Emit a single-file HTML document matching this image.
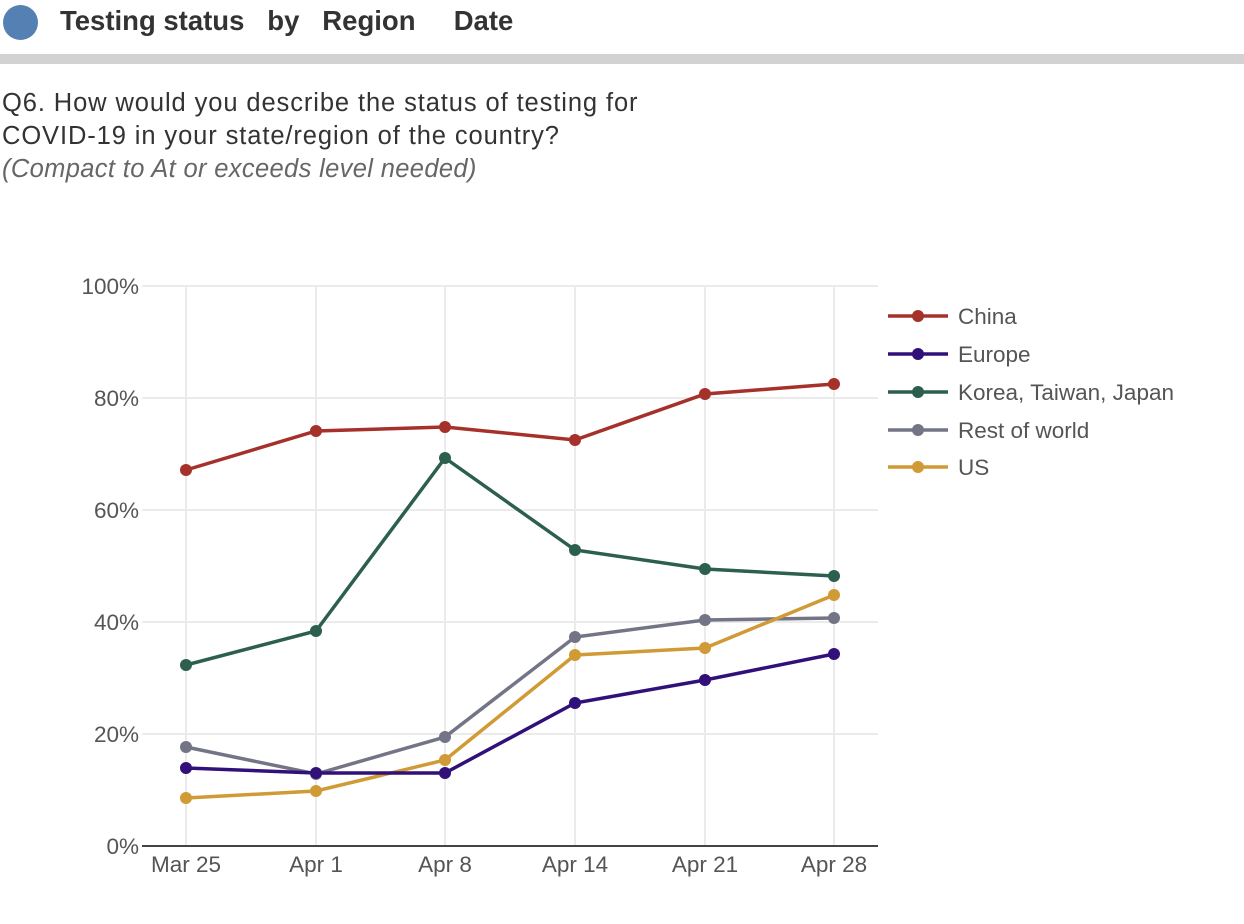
<!DOCTYPE html><html><head><style>
body{margin:0;width:1244px;height:924px;background:#fff;font-family:"Liberation Sans",sans-serif;overflow:hidden;position:relative}
</style></head><body>
<div style="position:absolute;left:3px;top:5px;width:35px;height:35px;border-radius:50%;background:#5580b4"></div>
<div style="position:absolute;left:60px;top:5px;font-size:27.5px;font-weight:bold;color:#333;white-space:pre">Testing status   by   Region     Date</div>
<div style="position:absolute;left:0;top:54px;width:1244px;height:10px;background:#d2d2d2"></div>
<div style="position:absolute;left:2px;top:87px;font-size:25.5px;letter-spacing:0.9px;color:#333;line-height:33px;white-space:nowrap">Q6. How would you describe the status of testing for<br>COVID-19 in your state/region of the country?<br><i style="color:#666;letter-spacing:0.35px">(Compact to At or exceeds level needed)</i></div>
<svg width="1244" height="924" style="position:absolute;left:0;top:0" font-family="Liberation Sans, sans-serif">
<g stroke="#ebebeb" stroke-width="2">
<line x1="142" x2="878" y1="286" y2="286"/><line x1="142" x2="878" y1="398" y2="398"/><line x1="142" x2="878" y1="510" y2="510"/><line x1="142" x2="878" y1="622" y2="622"/><line x1="142" x2="878" y1="734" y2="734"/>
<line x1="186" x2="186" y1="286" y2="846"/><line x1="316" x2="316" y1="286" y2="846"/><line x1="445" x2="445" y1="286" y2="846"/><line x1="575" x2="575" y1="286" y2="846"/><line x1="705" x2="705" y1="286" y2="846"/><line x1="834" x2="834" y1="286" y2="846"/>
</g>
<line x1="142" x2="878" y1="846" y2="846" stroke="#444" stroke-width="2"/>
<g font-size="22.5" fill="#555" text-anchor="end">
<text x="139" y="294">100%</text><text x="139" y="406">80%</text><text x="139" y="518">60%</text><text x="139" y="630">40%</text><text x="139" y="742">20%</text><text x="139" y="854">0%</text></g>
<g font-size="22.5" fill="#555" text-anchor="middle">
<text x="186" y="872">Mar 25</text><text x="316" y="872">Apr 1</text><text x="445" y="872">Apr 8</text><text x="575" y="872">Apr 14</text><text x="705" y="872">Apr 21</text><text x="834" y="872">Apr 28</text></g>
<g fill="none" stroke-width="3.5">
<polyline stroke="#a5312a" points="186,470 316,431 445,427 575,440 705,394 834,384"/>
<polyline stroke="#2d5f4f" points="186,665 316,631 445,458 575,550 705,569 834,576"/>
<polyline stroke="#737586" points="186,747 316,774 445,737 575,637 705,620 834,618"/>
<polyline stroke="#d09a35" points="186,798 316,791 445,760 575,655 705,648 834,595"/>
<polyline stroke="#32107a" points="186,768 316,773 445,773 575,703 705,680 834,654"/>
</g>
<g fill="#a5312a"><circle cx="186" cy="470" r="6"/><circle cx="316" cy="431" r="6"/><circle cx="445" cy="427" r="6"/><circle cx="575" cy="440" r="6"/><circle cx="705" cy="394" r="6"/><circle cx="834" cy="384" r="6"/></g>
<g fill="#2d5f4f"><circle cx="186" cy="665" r="6"/><circle cx="316" cy="631" r="6"/><circle cx="445" cy="458" r="6"/><circle cx="575" cy="550" r="6"/><circle cx="705" cy="569" r="6"/><circle cx="834" cy="576" r="6"/></g>
<g fill="#737586"><circle cx="186" cy="747" r="6"/><circle cx="316" cy="774" r="6"/><circle cx="445" cy="737" r="6"/><circle cx="575" cy="637" r="6"/><circle cx="705" cy="620" r="6"/><circle cx="834" cy="618" r="6"/></g>
<g fill="#d09a35"><circle cx="186" cy="798" r="6"/><circle cx="316" cy="791" r="6"/><circle cx="445" cy="760" r="6"/><circle cx="575" cy="655" r="6"/><circle cx="705" cy="648" r="6"/><circle cx="834" cy="595" r="6"/></g>
<g fill="#32107a"><circle cx="186" cy="768" r="6"/><circle cx="316" cy="773" r="6"/><circle cx="445" cy="773" r="6"/><circle cx="575" cy="703" r="6"/><circle cx="705" cy="680" r="6"/><circle cx="834" cy="654" r="6"/></g>
<g font-size="22.5" fill="#555">
<line x1="888" x2="948" y1="316" y2="316" stroke="#a5312a" stroke-width="3.5"/><circle cx="918" cy="316" r="6" fill="#a5312a"/><text x="958" y="324">China</text>
<line x1="888" x2="948" y1="354" y2="354" stroke="#32107a" stroke-width="3.5"/><circle cx="918" cy="354" r="6" fill="#32107a"/><text x="958" y="362">Europe</text>
<line x1="888" x2="948" y1="392" y2="392" stroke="#2d5f4f" stroke-width="3.5"/><circle cx="918" cy="392" r="6" fill="#2d5f4f"/><text x="958" y="400">Korea, Taiwan, Japan</text>
<line x1="888" x2="948" y1="430" y2="430" stroke="#737586" stroke-width="3.5"/><circle cx="918" cy="430" r="6" fill="#737586"/><text x="958" y="438">Rest of world</text>
<line x1="888" x2="948" y1="467" y2="467" stroke="#d09a35" stroke-width="3.5"/><circle cx="918" cy="467" r="6" fill="#d09a35"/><text x="958" y="475">US</text>
</g>
</svg>
</body></html>
